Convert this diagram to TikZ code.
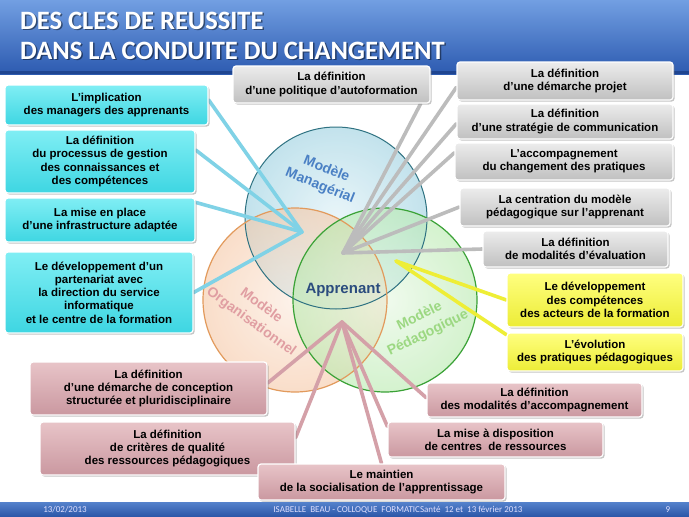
\documentclass[tikz,border=0pt]{standalone}
\usepackage{fontspec}
\setmainfont{Liberation Sans}
\newfontfamily\carlito{Carlito}
\usetikzlibrary{shadows,calc}
\pgfdeclarelayer{circ}
\pgfdeclarelayer{lines}
\pgfsetlayers{circ,lines,main}
\definecolor{cyT}{HTML}{80EEF4}
\definecolor{cyB}{HTML}{3ED6E2}
\definecolor{grT}{HTML}{ECECEC}
\definecolor{grB}{HTML}{C0C0C0}
\definecolor{yeT}{HTML}{FFFF80}
\definecolor{yeB}{HTML}{ECEC36}
\definecolor{piT}{HTML}{E8C4C8}
\definecolor{piB}{HTML}{CA98A0}
\definecolor{cyL}{HTML}{80D2E6}
\definecolor{grL}{HTML}{BCBCBC}
\definecolor{yeL}{HTML}{EEEE36}
\definecolor{piL}{HTML}{D4A0A8}
\definecolor{barT}{HTML}{729FE2}
\definecolor{barB}{HTML}{2C5AB0}
\definecolor{barE}{HTML}{1F4590}
\definecolor{footT}{HTML}{5582CC}
\definecolor{footB}{HTML}{2A55A6}
\definecolor{bluI}{HTML}{E4F3F8}
\definecolor{bluF}{HTML}{B4DCE8}
\definecolor{bluD}{HTML}{2F7282}
\definecolor{orI}{HTML}{FCEADD}
\definecolor{orF}{HTML}{F6C8A6}
\definecolor{orD}{HTML}{E29A5C}
\definecolor{grnI}{HTML}{E6F8E2}
\definecolor{grnF}{HTML}{B8EAAE}
\definecolor{grnD}{HTML}{3AA236}
\definecolor{manT}{HTML}{4A80C4}
\definecolor{orgT}{HTML}{E09EA2}
\definecolor{pedT}{HTML}{9CD882}
\definecolor{appT}{HTML}{2B4C7E}
\begin{document}
\begin{tikzpicture}[x=1pt,y=-1pt,
  box/.style={rounded corners=3pt, draw=white, line width=1.2pt, align=center,
    font=\bfseries\fontsize{11.5}{13.3}\selectfont, inner sep=2pt,
    drop shadow={shadow xshift=1.6pt, shadow yshift=-1.6pt, opacity=0.45}},
  cybox/.style={box, top color=cyT, bottom color=cyB},
  grbox/.style={box, top color=grT, bottom color=grB},
  yebox/.style={box, top color=yeT, bottom color=yeB},
  pibox/.style={box, top color=piT, bottom color=piB},
  conn/.style={line width=3.6pt, line cap=round, line join=round},
  cyline/.style={conn, draw=cyL},
  grline/.style={conn, draw=grL},
  yeline/.style={conn, draw=yeL},
  piline/.style={conn, draw=piL},
  circlab/.style={font=\bfseries\fontsize{14}{16}\selectfont, inner sep=0pt},
  foot/.style={font=\carlito\fontsize{9}{10}\selectfont, text=white!88!blue, inner sep=0pt}
]
\useasboundingbox (0,0) rectangle (689,517);
\begin{pgfonlayer}{circ}
  \fill[white] (0,0) rectangle (689,517);
  \shade[top color=barT, bottom color=barB] (0,0) rectangle (689,74);
  \fill[barE] (0,71) rectangle (689,74);
  \shade[top color=footT, bottom color=footB] (0,502) rectangle (689,517);
  % circles
  \shade[inner color=bluI, outer color=bluF, fill opacity=0.8] (336,218) circle[radius=91];
  \shade[inner color=orI, outer color=orF, fill opacity=0.6] (295,300) circle[radius=92];
  \shade[inner color=grnI, outer color=grnF, fill opacity=0.6] (385,300) circle[radius=92];
  \draw[bluD, line width=1pt] (336,218) circle[radius=91];
  \draw[orD, line width=1.2pt] (295,300) circle[radius=92];
  \draw[grnD, line width=1.2pt] (385,300) circle[radius=92];
  % circle labels
  \node[circlab, text=manT, rotate=-22] (lm1) at (327,168) {Modèle};
  \node[circlab, text=manT, rotate=-22] (lm2) at (320,186) {Managérial};
  \node[circlab, text=orgT, rotate=-36] (lo1) at (262,305) {Modèle};
  \node[circlab, text=orgT, rotate=-36] (lo2) at (251,322) {Organisationnel};
  \node[circlab, text=pedT, rotate=26] (lp1) at (419,315) {Modèle};
  \node[circlab, text=pedT, rotate=26] (lp2) at (428,333) {Pédagogique};
  \node[circlab, text=appT, font=\bfseries\fontsize{15}{17}\selectfont] (app) at (343,290) {Apprenant};
\end{pgfonlayer}
% title
\node[anchor=base west, font=\carlito\bfseries\fontsize{26.5}{30}\selectfont, text=black, opacity=0.45, inner sep=0pt] (t1s) at (21.5,30.5) {DES CLES DE REUSSITE};
\node[anchor=base west, font=\carlito\bfseries\fontsize{26.5}{30}\selectfont, text=white, inner sep=0pt] (t1) at (20,29) {DES CLES DE REUSSITE};
\node[anchor=base west, font=\carlito\bfseries\fontsize{26.5}{30}\selectfont, text=black, opacity=0.45, inner sep=0pt] (t2s) at (21.5,60.5) {DANS LA CONDUITE DU CHANGEMENT};
\node[anchor=base west, font=\carlito\bfseries\fontsize{26.5}{30}\selectfont, text=white, inner sep=0pt] (t2) at (20,59) {DANS LA CONDUITE DU CHANGEMENT};
% footer
\node[foot] (fd) at (65,510) {13/02/2013};
\node[foot] (fm) at (398,510) {ISABELLE\ \ BEAU - COLLOQUE\ \ FORMATICSanté\ \ 12 et\ \ 13 février 2013};
\node[foot] (fp) at (668,510) {9};
% cyan boxes
\node[cybox, minimum width=203pt, minimum height=40pt] (c1) at (106.5,105) {L’implication\\des managers des apprenants};
\node[cybox, minimum width=190pt, minimum height=63pt] (c2) at (100,161.5) {La définition\\du processus de gestion\\des connaissances et\\des compétences};
\node[cybox, minimum width=190pt, minimum height=44pt] (c3) at (100,220) {La mise en place\\d’une infrastructure adaptée};
\node[cybox, minimum width=188pt, minimum height=81pt] (c4) at (99,292.5) {Le développement d’un\\partenariat avec\\la direction du service\\informatique\\et le centre de la formation};
% grey boxes
\node[grbox, minimum width=197pt, minimum height=37pt] (g0) at (331.5,84.5) {La définition\\d’une politique d’autoformation};
\node[grbox, minimum width=216pt, minimum height=38pt] (g1) at (565,81) {La définition\\d’une démarche projet};
\node[grbox, minimum width=216pt, minimum height=35pt] (g2) at (565,121.5) {La définition\\d’une stratégie de communication};
\node[grbox, minimum width=218pt, minimum height=37pt] (g3) at (564,161.5) {L’accompagnement\\du changement des pratiques};
\node[grbox, minimum width=210pt, minimum height=38pt] (g4) at (565,207) {La centration du modèle\\pédagogique sur l’apprenant};
\node[grbox, minimum width=185pt, minimum height=36pt] (g5) at (575.5,249) {La définition\\de modalités d’évaluation};
% yellow boxes
\node[yebox, minimum width=176pt, minimum height=54pt] (y1) at (595,300) {Le développement\\des compétences\\des acteurs de la formation};
\node[yebox, minimum width=176pt, minimum height=38pt] (y2) at (595,352) {L’évolution\\des pratiques pédagogiques};
% pink boxes
\node[pibox, minimum width=237pt, minimum height=53pt] (p1) at (148.5,388.5) {La définition\\d’une démarche de conception\\structurée et pluridisciplinaire};
\node[pibox, minimum width=255pt, minimum height=53pt] (p2) at (167.5,448.5) {La définition\\de critères de qualité\\des ressources pédagogiques};
\node[pibox, minimum width=247pt, minimum height=36pt] (p3) at (381.5,482) {Le maintien\\de la socialisation de l’apprentissage};
\node[pibox, minimum width=215pt, minimum height=34pt] (p4) at (534.5,400) {La définition\\des modalités d’accompagnement};
\node[pibox, minimum width=215pt, minimum height=35pt] (p5) at (495.5,439.5) {La mise à disposition\\de centres\ \ de ressources};
% hubs
\coordinate (hc) at (302,232);
\coordinate (hg) at (343,253);
\coordinate (hy) at (396,261);
\coordinate (hp) at (342,322);
\begin{pgfonlayer}{lines}
  \draw[cyline] ($(c1.north east)!0.375!(c1.south east)$) -- (hc);
  \draw[cyline] ($(c2.north east)!0.32!(c2.south east)$) -- (hc);
  \draw[cyline] ($(c3.north east)!0.11!(c3.south east)$) -- (hc);
  \draw[cyline] (c4.east) -- (hc);
  \draw[grline] ($(g0.south west)!0.95!(g0.south east)$) -- (hg);
  \draw[grline] ($(g1.north west)!0.66!(g1.south west)$) -- (hg);
  \draw[grline] ($(g2.north west)!0.56!(g2.south west)$) -- (hg);
  \draw[grline] ($(g3.north west)!0.27!(g3.south west)$) -- (hg);
  \draw[grline] (g4.west) -- (hg);
  \draw[grline] (g5.west) -- (hg);
  \draw[yeline] (y1.west) -- (hy);
  \draw[yeline] ($(y2.north west)!0.06!(y2.south west)$) -- (hy);
  \draw[piline] ($(p1.north east)!0.4!(p1.south east)$) -- (hp);
  \draw[piline] ($(p2.north east)!0.3!(p2.south east)$) -- (hp);
  \draw[piline] (p3.north) -- (hp);
  \draw[piline] ($(p5.north west)!0.14!(p5.south west)$) -- (hp);
  \draw[piline] ($(p4.north west)!0.44!(p4.south west)$) -- (hp);
\end{pgfonlayer}
\end{tikzpicture}
\end{document}
